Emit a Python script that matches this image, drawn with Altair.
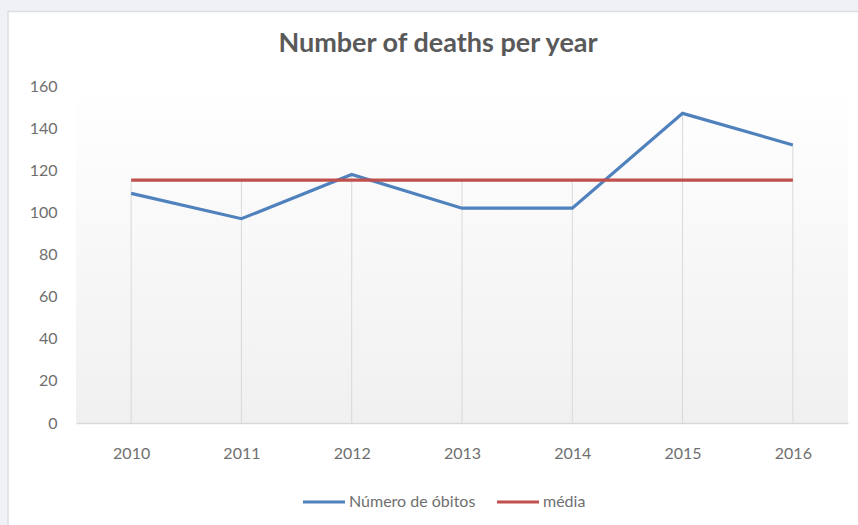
import altair as alt
import pandas as pd

years = ["2010", "2011", "2012", "2013", "2014", "2015", "2016"]
obitos = [109, 97, 118, 102, 102, 147, 132]
media_value = 115.3
media = [media_value] * len(years)

series_names = ["Número de óbitos", "média"]
series_colors = ["#4f81bd", "#c0504d"]

W, H = 772, 337
PAD = {"left": 76, "top": 86, "right": 10, "bottom": 102}

wide = pd.DataFrame({"year": years, "obitos": obitos, "media": media})
long = pd.concat([
    pd.DataFrame({"year": years, "value": obitos, "series": series_names[0]}),
    pd.DataFrame({"year": years, "value": media, "series": series_names[1]}),
])

x_enc = alt.X("year:N", sort=years, title=None,
              scale=alt.Scale(type="point", padding=0.5),
              axis=alt.Axis(labelAngle=0, ticks=False, domain=True,
                            domainColor="#d9d9d9", domainWidth=1.5,
                            labelPadding=22, grid=False, zindex=1))

# outer white chart box (decoration)
box = alt.Chart(alt.Data(values=[{}])).mark_rect(
    fill="white", stroke="#dcdde0", strokeWidth=1.5, clip=False
).encode(
    x=alt.value(-68), x2=alt.value(W + 20),
    y=alt.value(-74.5), y2=alt.value(H + 110),
)

# plot-area gradient background
bg = alt.Chart(alt.Data(values=[{}])).mark_rect(
    color=alt.Gradient(
        gradient="linear", x1=0, x2=0, y1=0, y2=1,
        stops=[alt.GradientStop(offset=0, color="#ffffff"),
               alt.GradientStop(offset=1, color="#f0f0f0")],
    )
).encode(
    x=alt.value(0), x2=alt.value("width"),
    y=alt.value(0), y2=alt.value("height"),
)

drop = alt.Chart(wide).transform_calculate(
    top="max(datum.obitos, datum.media)", zero="0"
).mark_rule(color="#d9d9d9", strokeWidth=1).encode(
    x=x_enc,
    y=alt.Y("top:Q"),
    y2=alt.Y2("zero:Q"),
)

lines = alt.Chart(long).mark_line(strokeWidth=3.2).encode(
    x=x_enc,
    y=alt.Y("value:Q", title=None,
            scale=alt.Scale(domain=[0, 160], nice=False, zero=True),
            axis=alt.Axis(values=list(range(0, 161, 20)), grid=False,
                          domain=False, ticks=False, labelPadding=19,
                          zindex=1)),
    color=alt.Color("series:N", sort=series_names,
                    scale=alt.Scale(domain=series_names, range=series_colors),
                    legend=alt.Legend(title=None, orient="none",
                                      legendX=225, legendY=393,
                                      direction="horizontal",
                                      symbolType="stroke",
                                      symbolSize=1764,
                                      symbolStrokeWidth=3.2,
                                      labelOffset=2,
                                      columnPadding=14,
                                      labelFontSize=16,
                                      labelColor="#6f6f6f",
                                      labelFont="Lato",
                                      zindex=1)),
    order=alt.Order("year:N"),
)

chart = alt.layer(box, bg, drop, lines).properties(
    width=W, height=H,
    background="#eff1f6",
    padding=PAD,
    autosize=alt.AutoSizeParams(type="none"),
    title=alt.TitleParams("Number of deaths per year", font="Lato",
                          fontSize=27, fontWeight="bold", color="#595959",
                          anchor="middle", dx=-24, offset=-47, zindex=1),
).configure_view(stroke=None).configure_axis(
    labelFont="Lato", labelFontSize=16, labelColor="#6f6f6f"
)

chart.save("out.html", embed_options={"renderer": "svg", "actions": False})
